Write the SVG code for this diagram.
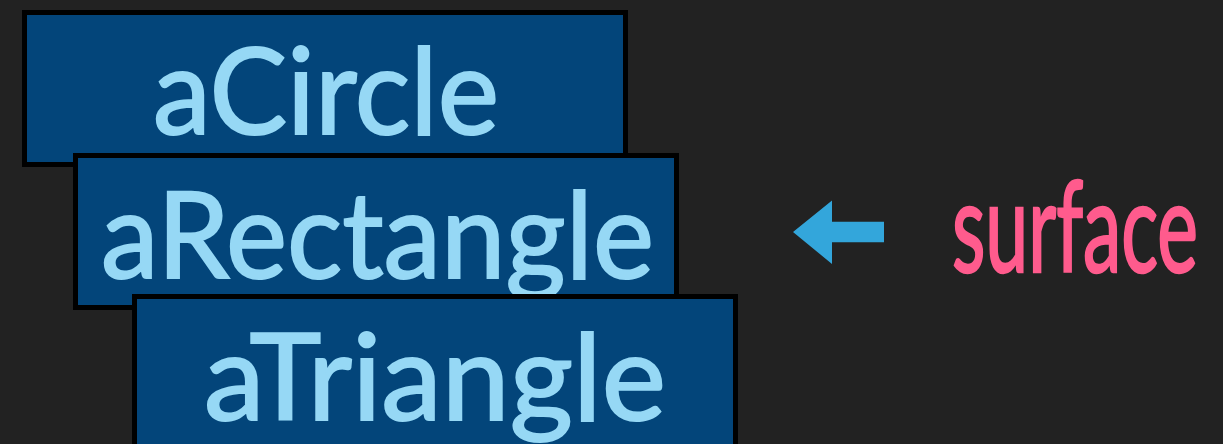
<svg xmlns="http://www.w3.org/2000/svg" width="1223" height="444" viewBox="0 0 1223 444">
  <style>
    .box { fill: #03457a; stroke: #000000; stroke-width: 5; }
    .lbl { font-family: Lato, "Liberation Sans", sans-serif; font-size: 120px; fill: #96d8f5; stroke: #96d8f5; stroke-width: 2; text-anchor: middle; }
    .surf { font-family: Lato, "Liberation Sans", sans-serif; font-size: 126px; fill: #ff5b8d; stroke: #ff5b8d; stroke-width: 2.5; }
  </style>
  <rect width="1223" height="444" fill="#222222"/>
  <g id="aCircle">
    <rect class="box" x="24.5" y="12.5" width="601" height="152"/>
    <text class="lbl" x="326" y="134" textLength="346" lengthAdjust="spacingAndGlyphs">aCircle</text>
  </g>
  <g id="aRectangle">
    <rect class="box" x="75.5" y="155.5" width="601" height="152"/>
    <text class="lbl" x="377.5" y="278" textLength="553" lengthAdjust="spacingAndGlyphs">aRectangle</text>
  </g>
  <g id="aTriangle">
    <rect class="box" x="134.5" y="296.5" width="601" height="160"/>
    <text class="lbl" x="435" y="420" textLength="462" lengthAdjust="spacingAndGlyphs">aTriangle</text>
  </g>
  <g id="connectors">
    <polygon points="793,232 832,200.5 832,221.7 884,221.7 884,242.3 832,242.3 832,264" fill="#33a6db"/>
  </g>
  <g id="surface">
    <text class="surf" x="952" y="272" textLength="246" lengthAdjust="spacingAndGlyphs">surface</text>
  </g>
</svg>
